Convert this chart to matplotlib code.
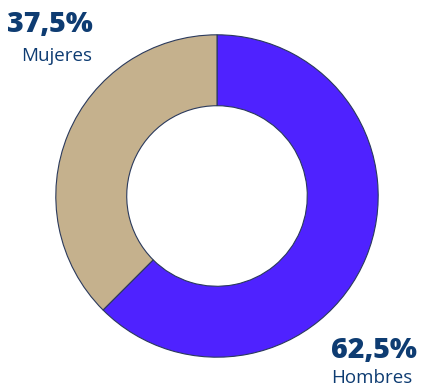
import matplotlib
matplotlib.use("Agg")
import matplotlib.pyplot as plt

categories = ["Hombres", "Mujeres"]
values = [62.5, 37.5]
labels = ["62,5%", "37,5%"]
colors = ["#4F22FF", "#C5B18D"]

W, H = 426, 391
fig = plt.figure(figsize=(W / 100, H / 100), dpi=100)
cx, cy, r = 217, 196, 162
ax = fig.add_axes([(cx - r) / W, (H - cy - r) / H, 2 * r / W, 2 * r / H])
ax.pie(values, colors=colors, startangle=90, counterclock=False, radius=1,
       wedgeprops=dict(width=0.44, edgecolor="#2B3A5C", linewidth=0.8))
ax.set_xlim(-1.005, 1.005)
ax.set_ylim(-1.005, 1.005)
ax.set_aspect("equal")
ax.axis("off")

navy = "#0E3C72"
font = "Open Sans"
fig.text(50 / W, 1 - 24 / H, labels[1], ha="center", va="center", fontsize=20.5,
         fontweight="heavy", color=navy, family=font)
fig.text(57 / W, 1 - 56 / H, categories[1], ha="center", va="center", fontsize=13.5,
         color=navy, family=font)
fig.text(374 / W, 1 - 350 / H, labels[0], ha="center", va="center", fontsize=20.5,
         fontweight="heavy", color=navy, family=font)
fig.text(372 / W, 1 - 378 / H, categories[0], ha="center", va="center", fontsize=13.5,
         color=navy, family=font)

fig.savefig("out.png", dpi=100)
